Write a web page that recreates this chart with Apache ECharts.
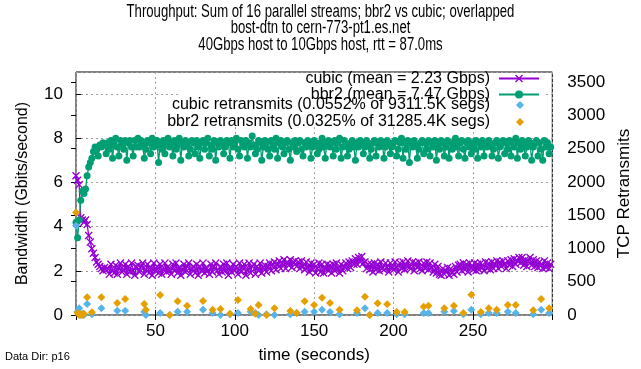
<!DOCTYPE html>
<html>
<head>
<meta charset="utf-8">
<script src="https://cdn.jsdelivr.net/npm/echarts@6/dist/echarts.min.js"></script>
<style>
  html, body { margin: 0; padding: 0; background: #fff; }
  #chart { width: 641px; height: 369px; }
</style>
</head>
<body>
<div id="chart"></div>
<script>
// Throughput per second (Gbits/s), one sample per second starting at t = 0
const cubicGbps = [
  6.3, 6.1, 5.9, 4.4, 4.3, 4.2, 4.3, 4.1, 3.6, 3.3, 3.0, 2.8, 2.6, 2.4, 2.3, 2.2, 2.1, 2.0, 2.15, 2.05,
  2.1, 1.85, 2.3, 2.0, 1.9, 2.25, 1.85, 2.15, 2.35, 1.95, 2.05, 2.3, 1.85, 2.2, 1.95, 2.35, 2.0, 1.8, 2.2, 2.25,
  1.95, 2.2, 2.35, 1.85, 2.05, 2.3, 1.9, 2.15, 1.8, 2.35, 2.0, 2.2, 1.9, 2.3, 1.85, 2.05, 2.35, 1.95, 2.2, 2.0,
  1.85, 2.3, 2.0, 2.35, 1.9, 2.15, 1.8, 2.05, 2.3, 1.95, 2.2, 2.35, 1.85, 2.1, 2.2, 1.9, 2.3, 1.8, 2.2, 2.0,
  2.35, 1.9, 2.15, 2.0, 1.85, 2.3, 1.95, 2.2, 2.35, 2.0, 1.85, 2.2, 1.95, 2.3, 2.0, 2.35, 1.8, 2.15, 1.95, 2.3,
  2.0, 2.2, 1.85, 2.35, 1.95, 2.15, 2.3, 1.8, 2.05, 2.35, 1.9, 2.2, 2.3, 1.85, 2.2, 2.0, 2.35, 1.9, 2.15, 2.25,
  1.95, 2.2, 2.35, 2.0, 2.3, 2.4, 2.05, 2.3, 2.45, 2.1, 2.35, 2.5, 2.1, 2.4, 2.25, 2.5, 2.15, 2.4, 2.45, 2.2,
  2.4, 2.1, 2.45, 2.2, 2.05, 2.4, 2.15, 1.95, 2.35, 2.05, 2.3, 1.9, 2.1, 2.35, 1.95, 2.3, 1.9, 2.1, 2.3, 2.0,
  2.25, 1.9, 2.3, 2.0, 2.35, 2.1, 1.9, 2.3, 2.0, 2.2, 2.35, 2.1, 2.4, 2.15, 2.45, 2.3, 2.55, 2.3, 2.6, 2.4,
  2.65, 2.35, 2.4, 2.1, 2.3, 2.05, 2.3, 1.95, 2.35, 2.05, 2.3, 2.0, 2.4, 2.1, 2.05, 2.35, 2.15, 1.95, 2.35, 2.15,
  2.05, 2.4, 2.15, 1.95, 2.35, 2.1, 2.4, 2.05, 2.25, 2.45, 2.15, 2.1, 2.4, 2.0, 2.35, 2.15, 2.4, 2.1, 2.0, 2.35,
  2.1, 2.4, 2.05, 2.35, 2.15, 1.95, 2.3, 1.9, 2.2, 1.85, 1.8, 2.1, 1.85, 2.0, 2.15, 1.8, 2.1, 1.9, 1.85, 2.2,
  1.95, 2.25, 2.3, 2.0, 2.35, 2.05, 2.3, 1.95, 2.35, 2.15, 2.05, 2.35, 2.0, 2.3, 2.05, 2.35, 2.15, 2.0, 2.4, 2.1,
  2.35, 2.05, 2.4, 2.1, 2.3, 2.45, 2.1, 2.4, 2.2, 2.45, 2.3, 2.1, 2.45, 2.25, 2.5, 2.2, 2.55, 2.3, 2.45, 2.6,
  2.35, 2.6, 2.25, 2.5, 2.2, 2.45, 2.6, 2.25, 2.5, 2.2, 2.45, 2.15, 2.4, 2.25, 2.1, 2.45, 2.15, 2.35, 2.1, 2.3
];

const bbr2Gbps = [
  4.2, 3.5, 4.3, 5.2, 5.6, 5.5, 5.7, 6.3, 6.7, 6.9, 7.1, 7.4, 7.6, 7.5, 7.2, 7.7, 7.6, 7.8, 7.7, 7.3,
  7.8, 7.5, 7.9, 7.1, 7.7, 8.0, 7.6, 7.2, 7.9, 7.7, 7.5, 7.9, 7.0, 7.8, 7.9, 7.6, 7.2, 7.9, 7.6, 8.0,
  7.6, 7.9, 7.7, 7.1, 7.5, 7.9, 7.8, 7.3, 8.0, 7.6, 7.8, 7.9, 6.9, 7.7, 7.5, 7.9, 7.3, 7.7, 8.0, 7.6,
  7.8, 7.2, 7.9, 7.5, 7.7, 8.0, 7.0, 7.8, 7.6, 7.9, 7.7, 7.2, 7.5, 7.9, 7.8, 7.3, 7.9, 7.6, 7.1, 7.8,
  7.9, 7.5, 7.8, 8.0, 7.2, 7.7, 7.5, 7.9, 7.0, 7.8, 7.6, 7.9, 7.7, 7.3, 7.6, 7.9, 7.8, 7.1, 7.9, 7.6,
  7.8, 8.0, 7.5, 7.2, 7.9, 7.7, 7.6, 7.9, 7.1, 7.8, 7.6, 8.1, 7.7, 7.3, 7.5, 7.9, 7.8, 7.0, 7.6, 7.9,
  7.8, 7.5, 7.2, 7.9, 7.7, 7.5, 8.0, 7.1, 7.8, 7.9, 7.6, 7.3, 7.8, 7.9, 7.5, 7.0, 7.8, 7.6, 7.9, 7.4,
  7.8, 7.9, 7.5, 7.2, 7.8, 7.6, 7.9, 7.7, 7.1, 7.6, 7.9, 7.8, 7.3, 7.5, 7.8, 8.0, 7.6, 7.1, 7.8, 7.9,
  7.6, 7.8, 7.2, 7.9, 7.5, 7.8, 8.0, 7.1, 7.6, 7.9, 7.7, 7.2, 7.5, 7.8, 7.9, 7.6, 7.0, 7.8, 7.6, 7.9,
  7.8, 7.3, 7.6, 7.9, 7.7, 7.1, 7.5, 7.8, 7.9, 7.2, 7.8, 7.6, 7.9, 7.7, 7.1, 7.6, 7.9, 7.8, 7.3, 7.6,
  7.8, 7.9, 7.2, 7.5, 7.8, 8.0, 7.1, 7.8, 7.5, 7.9, 6.9, 7.8, 7.6, 7.9, 7.7, 7.1, 7.5, 7.8, 7.9, 7.3,
  7.8, 7.5, 7.9, 7.2, 7.8, 7.6, 7.9, 7.0, 7.7, 7.5, 7.9, 7.8, 7.2, 7.6, 7.9, 7.1, 7.8, 7.5, 7.8, 8.0,
  7.6, 7.2, 7.8, 7.9, 7.5, 7.1, 7.8, 7.9, 7.6, 7.3, 7.8, 7.5, 7.9, 7.1, 7.8, 7.6, 7.9, 7.2, 7.8, 7.6,
  7.9, 7.7, 7.2, 7.5, 7.8, 7.9, 7.1, 7.6, 7.8, 7.9, 7.3, 7.8, 7.5, 7.9, 7.2, 7.8, 7.6, 8.0, 7.1, 7.8,
  7.5, 7.9, 7.7, 7.2, 7.6, 7.9, 7.8, 7.0, 7.6, 7.8, 7.9, 7.2, 7.8, 7.5, 7.0, 7.9, 7.6, 7.8, 7.3, 7.6
];

// TCP retransmits at the sampled intervals (seconds)
const retransTimes = [
  0, 1, 2, 3, 4, 5, 7, 10, 16, 26, 31, 43, 44, 53, 59, 64, 70, 80, 86, 91,
  97, 102, 110, 113, 115, 120, 125, 135, 139, 144, 150, 155, 160, 166, 177, 182, 185, 190, 196, 202,
  207, 219, 222, 232, 238, 244, 249, 255, 260, 265, 272, 277, 288, 293, 298
];
const cubicRetrans = [
  1340, 50, 100, 0, 20, 0, 165, 10, 100, 65, 65, 50, 0, 30, 0, 50, 50, 80, 30, 0,
  10, 30, 50, 30, 0, 10, 0, 10, 30, 50, 50, 80, 45, 10, 30, 100, 0, 30, 30, 10,
  10, 30, 30, 50, 60, 10, 80, 10, 30, 30, 50, 30, 10, 80, 30
];
const bbr2Retrans = [
  1540, 30, 0, 10, 0, 20, 265, 40, 265, 180, 240, 165, 80, 300, 0, 205, 140, 210, 80, 90,
  20, 225, 90, 20, 150, 0, 100, 60, 30, 205, 150, 260, 180, 80, 70, 275, 0, 175, 160, 45,
  45, 125, 140, 100, 140, 30, 305, 45, 100, 80, 150, 150, 70, 240, 100
];

const seriesNames = [
  'cubic (mean = 2.23 Gbps)',
  'bbr2 (mean = 7.47 Gbps)',
  'cubic retransmits (0.0552% of 9311.5K segs)',
  'bbr2 retransmits (0.0325% of 31285.4K segs)'
];
const titleLines = [
  'Throughput: Sum of 16 parallel streams; bbr2 vs cubic; overlapped',
  'bost-dtn to cern-773-pt1.es.net',
  '40Gbps host to 10Gbps host, rtt = 87.0ms'
];

const FONT = 'Liberation Sans, Arial, sans-serif';
const crossSymbol = 'path://M0,1.2L1.2,0L5,3.8L8.8,0L10,1.2L6.2,5L10,8.8L8.8,10L5,6.2L1.2,10L0,8.8L3.8,5Z';

const perSecond = arr => arr.map((v, i) => [i, v]);
const atTimes = arr => arr.map((v, i) => [retransTimes[i], v]);

const gridLine = { show: true, lineStyle: { color: '#a0a0a0', type: [2, 3], width: 1 } };
const tickStyle = { show: true, inside: true, length: 5, lineStyle: { color: '#000' } };
const labelStyle = { color: '#000', fontFamily: FONT, fontSize: 17 };
const legendText = { fontFamily: FONT, fontSize: 16, color: '#000', lineHeight: 13 };

// condensed three-line heading, centred over the chart
const titleCentres = [12, 28.5, 45];
const titleGraphics = titleLines.map((line, i) => ({
  type: 'text',
  x: 320.5, y: titleCentres[i],
  scaleX: 0.73, originX: 0, originY: 0,
  style: {
    text: line, fontFamily: FONT, fontSize: 18, fill: '#000',
    align: 'center', verticalAlign: 'middle'
  }
}));

const chart = echarts.init(document.getElementById('chart'), null, { renderer: 'canvas' });
chart.setOption({
  animation: false,
  backgroundColor: '#fff',
  textStyle: { fontFamily: FONT },
  grid: {
    left: 76, right: 83, top: 72, bottom: 53,
    show: true, borderColor: '#000', borderWidth: 1, backgroundColor: 'transparent'
  },
  legend: [{
    orient: 'vertical',
    right: 101, top: 70.5,
    align: 'right',
    itemWidth: 40, itemHeight: 10, itemGap: 0,
    padding: 0,
    textStyle: Object.assign({ padding: [0, 4, 0, 0] }, legendText),
    data: seriesNames.slice(0, 2)
  }, {
    orient: 'vertical',
    right: 117, top: 97,
    align: 'right',
    itemWidth: 8, itemHeight: 8, itemGap: 1,
    padding: 0,
    textStyle: Object.assign({ padding: [0, 21, 0, 0] }, legendText),
    data: seriesNames.slice(2)
  }],
  xAxis: [{
    type: 'value', min: 0, max: 300, interval: 50,
    name: 'time (seconds)', nameLocation: 'middle', nameGap: 32,
    nameTextStyle: { fontFamily: FONT, fontSize: 17, color: '#000' },
    axisLine: { show: false },
    axisTick: tickStyle,
    axisLabel: Object.assign({ showMinLabel: false, showMaxLabel: false, margin: 8 }, labelStyle),
    splitLine: gridLine
  }, {
    type: 'value', min: 0, max: 300, interval: 50, position: 'top',
    axisLine: { show: false }, axisTick: tickStyle,
    axisLabel: { show: false }, splitLine: { show: false }
  }],
  yAxis: [{
    type: 'value', min: 0, max: 11, interval: 2,
    name: 'Bandwidth (Gbits/second)', nameLocation: 'middle', nameGap: 45, nameRotate: 90,
    nameTextStyle: { fontFamily: FONT, fontSize: 16, color: '#000' },
    axisLine: { show: false },
    axisTick: tickStyle,
    axisLabel: Object.assign({ showMaxLabel: false, margin: 13 }, labelStyle),
    splitLine: gridLine
  }, {
    type: 'value', min: 0, max: 3650, interval: 500, position: 'right',
    name: 'TCP Retransmits', nameLocation: 'middle', nameGap: 62, nameRotate: 90,
    nameTextStyle: { fontFamily: FONT, fontSize: 17, color: '#000' },
    axisLine: { show: false },
    axisTick: tickStyle,
    axisLabel: Object.assign({ showMaxLabel: false, margin: 15, formatter: v => String(v) }, labelStyle),
    splitLine: { show: false }
  }],
  series: [{
    name: seriesNames[0], type: 'line', yAxisIndex: 0,
    data: perSecond(cubicGbps),
    symbol: crossSymbol, symbolSize: 8,
    color: '#9400d3',
    lineStyle: { width: 1.3, color: '#9400d3' },
    itemStyle: { color: '#9400d3' },
    z: 2
  }, {
    name: seriesNames[1], type: 'line', yAxisIndex: 0,
    data: perSecond(bbr2Gbps),
    symbol: 'circle', symbolSize: 7,
    color: '#009e73',
    lineStyle: { width: 1.3, color: '#009e73' },
    itemStyle: { color: '#009e73' },
    z: 3
  }, {
    name: seriesNames[2], type: 'scatter', yAxisIndex: 1,
    data: atTimes(cubicRetrans),
    symbol: 'diamond', symbolSize: 8,
    itemStyle: { color: '#56b4e9', opacity: 1 },
    z: 4
  }, {
    name: seriesNames[3], type: 'scatter', yAxisIndex: 1,
    data: atTimes(bbr2Retrans),
    symbol: 'diamond', symbolSize: 8,
    itemStyle: { color: '#e69f00', opacity: 1 },
    z: 5
  }],
  graphic: [{
    // opaque key box over the grid lines, kept just inside the top border
    type: 'rect', z: 1,
    shape: { x: 178, y: 73, width: 368, height: 51 },
    style: { fill: '#fff' }
  }, {
    type: 'text', left: 5, top: 351,
    style: { text: 'Data Dir: p16', fontFamily: FONT, fontSize: 11, fill: '#000' }
  }].concat(titleGraphics)
});
</script>
</body>
</html>
